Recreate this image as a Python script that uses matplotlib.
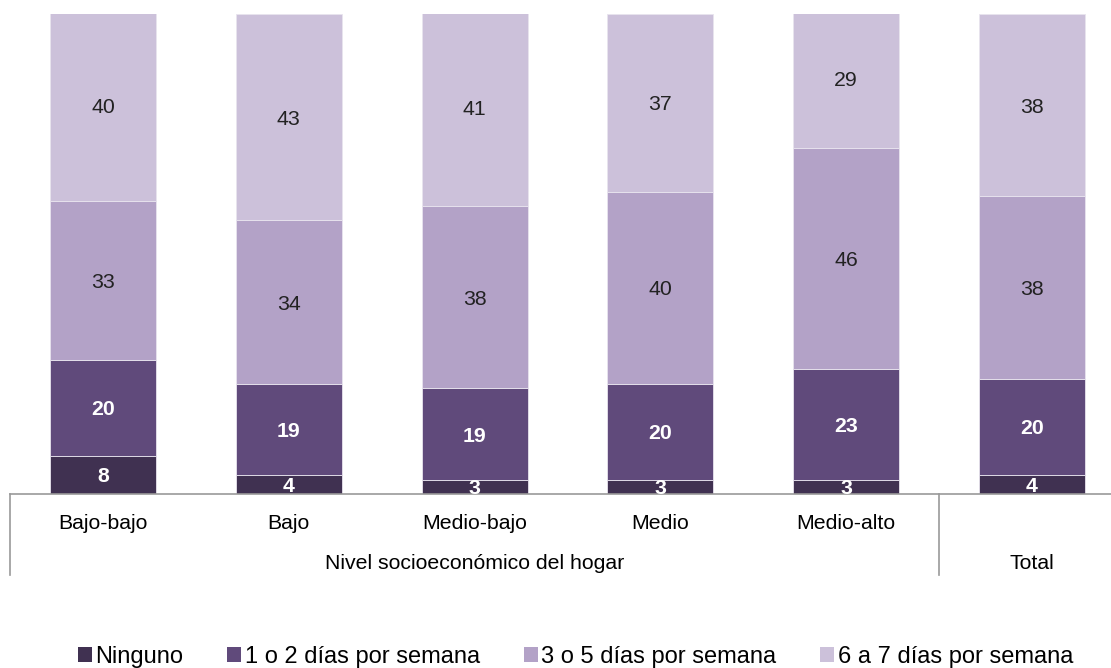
import matplotlib.pyplot as plt
import matplotlib.transforms as mtransforms
from matplotlib.patches import Patch
import numpy as np

plt.rcParams['font.family'] = ['Liberation Sans', 'DejaVu Sans']

categories = ['Bajo-bajo', 'Bajo', 'Medio-bajo', 'Medio', 'Medio-alto', 'Total']
group_label = 'Nivel socioeconómico del hogar'
series_names = ['Ninguno', '1 o 2 días por semana', '3 o 5 días por semana', '6 a 7 días por semana']
ninguno = [8, 4, 3, 3, 3, 4]
uno_dos = [20, 19, 19, 20, 23, 20]
tres_cinco = [33, 34, 38, 40, 46, 38]
seis_siete = [40, 43, 41, 37, 29, 38]

colors = ['#403151', '#604a7b', '#b3a2c7', '#ccc1da']
label_colors = ['white', 'white', '#222222', '#222222']
label_weights = ['bold', 'bold', 'normal', 'normal']
FS = 15.3

fig = plt.figure(figsize=(11.11, 6.68), dpi=100)
ax = fig.add_axes([10 / 1111, 174 / 668, 1101 / 1111, 480 / 668])

x = np.arange(len(categories))
bottom = np.zeros(len(categories))
for vals, col, lc, lw in zip([ninguno, uno_dos, tres_cinco, seis_siete], colors, label_colors, label_weights):
    vals = np.array(vals, dtype=float)
    ax.bar(x, vals, width=0.57, bottom=bottom, color=col, edgecolor='#e8e4ee', linewidth=0.6)
    for xi, b, v in zip(x, bottom, vals):
        ax.text(xi, b + v / 2, f'{int(v)}', ha='center', va='center_baseline', fontsize=FS,
                color=lc, fontweight=lw)
    bottom += vals

ax.set_xlim(-0.5, 5.425)
ax.set_ylim(0, 100)
for s in ['top', 'right', 'left']:
    ax.spines[s].set_visible(False)
ax.spines['bottom'].set_color('#999999')
ax.spines['bottom'].set_linewidth(1.2)
ax.set_yticks([])
ax.set_xticks([])

trans = mtransforms.blended_transform_factory(ax.transData, ax.transAxes)
for xs in [-0.5, 4.5]:
    ax.plot([xs, xs], [0, -0.169], transform=trans, color='#999999', lw=1.2, clip_on=False)

for xi, c in zip(x[:-1], categories[:-1]):
    ax.text(xi, -0.058, c, transform=trans, ha='center', va='center_baseline', fontsize=FS, color='black')
ax.text(2, -0.14, group_label, transform=trans, ha='center', va='center_baseline', fontsize=FS, color='black')
ax.text(5, -0.14, categories[-1], transform=trans, ha='center', va='center_baseline', fontsize=FS, color='black')

handles = [Patch(facecolor=c, edgecolor='none') for c in colors]
fig.legend(handles, series_names, loc='center', bbox_to_anchor=(0.518, 0.016), ncol=4,
           frameon=False, fontsize=17, handlelength=0.6, handleheight=0.6,
           handletextpad=0.15, columnspacing=1.85)

fig.savefig('out.png', dpi=100)
